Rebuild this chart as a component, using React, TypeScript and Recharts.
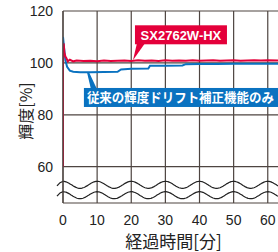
import { LineChart, Line, XAxis, YAxis, CartesianGrid, ReferenceDot, ReferenceArea } from "recharts";

const RED = "#e4003a";
const BLUE = "#0a72c0";
const GRID = "#4e4541";
const NUM_FONT = "'Liberation Sans', Arial, sans-serif";
const JP_FONT = "'Noto Sans CJK JP', sans-serif";

const xTicks = [0, 10, 20, 30, 40, 50, 60];
const yTicks = [60, 80, 100, 120];

const redTime = [0, 0, 0.2, 0.4, 0.7, 1, 1.4, 2, 3, 4, 6, 8, 10, 12, 14, 16, 18, 20, 22, 24, 26, 28, 30, 32, 34, 36, 38, 40, 42, 44, 46, 48, 50, 52, 54, 56, 58, 60, 63];
const redValue = [60, 100, 107.5, 104, 102.5, 101.8, 100.6, 101.2, 100.6, 100.9, 100.7, 100.8, 100.6, 100.9, 100.7, 100.8, 100.9, 100.7, 101, 100.8, 100.9, 100.7, 101, 100.8, 100.9, 100.8, 101, 100.8, 100.9, 101, 100.8, 100.9, 101, 100.8, 100.9, 101, 100.9, 101, 100.9];

const blueTime = [0, 0.3, 0.7, 1.2, 2, 3, 5, 8, 12, 16, 17, 20, 25, 25.5, 30, 35, 36, 40, 45, 50, 55, 60, 63];
const blueValue = [110, 106, 101, 98.5, 97, 96.6, 96.4, 96.4, 96.5, 96.6, 97.5, 97.7, 97.8, 98.9, 98.9, 99.0, 99.5, 99.6, 99.6, 99.7, 99.7, 99.7, 99.7];

const redData = redTime.map((t, i) => ({ t, v: redValue[i] }));
const blueData = blueTime.map((t, i) => ({ t, v: blueValue[i] }));

function wavePath(x0: number, x1: number, y: number, period: number, amp: number) {
  let d = "";
  for (let x = x0; x <= x1; x += 1) {
    const yy = y - amp * Math.cos(((x - x0) / period) * Math.PI * 2);
    d += (d ? "L" : "M") + x.toFixed(1) + "," + yy.toFixed(1);
  }
  return d;
}

const BreakMark = (props: any) => {
  const { x, y, width, height } = props;
  const period = width / 6.3;
  return (
    <g>
      <path d={wavePath(x, x + width, y, period, 3.5)} fill="none" stroke="#222" strokeWidth={1.2} />
      <path d={wavePath(x, x + width, y + height, period, 3.5)} fill="none" stroke="#222" strokeWidth={1.2} />
      <path d={"M" + (x - 6) + "," + (y + 1) + "Q" + (x - 3) + "," + (y - 3) + " " + x + "," + (y - 3.5)} fill="none" stroke="#222" strokeWidth={1.2} />
      <path d={"M" + (x - 6) + "," + (y + height + 1) + "Q" + (x - 3) + "," + (y + height - 3) + " " + x + "," + (y + height - 3.5)} fill="none" stroke="#222" strokeWidth={1.2} />
    </g>
  );
};

const RedLabel = (props: any) => {
  const { cx, cy } = props;
  return (
    <g>
      <polygon points={`${cx},${cy} ${cx + 4},${cy - 17} ${cx + 12},${cy - 17}`} fill={RED} />
      <rect x={cx + 2} y={cy - 35} width={92} height={19} fill={RED} />
      <text x={cx + 48} y={cy - 20.5} textAnchor="middle" fill="#fff" fontFamily={NUM_FONT} fontWeight="bold" fontSize={13}>
        SX2762W-HX
      </text>
    </g>
  );
};

const BlueLabel = (props: any) => {
  const { cx, cy } = props;
  return (
    <g>
      <polygon points={`${cx - 1},${cy} ${cx + 1},${cy} ${cx + 9},${cy + 17} ${cx + 3},${cy + 17}`} fill={BLUE} />
      <rect x={cx - 4} y={cy + 16} width={210} height={19} fill={BLUE} />
      <text x={cx - 1} y={cy + 30.5} fill="#fff" fontFamily={JP_FONT} fontWeight="bold" fontSize={13} textLength={187} lengthAdjust="spacingAndGlyphs">
        従来の輝度ドリフト補正機能のみ
      </text>
    </g>
  );
};

const XTitle = () => (
  <text x={173.5} y={248} textAnchor="middle" fill="#222" fontSize={17} fontFamily={JP_FONT}>
    経過時間[分]
  </text>
);

const YTitle = () => (
  <text x={0} y={0} transform="translate(25,111) rotate(-90)" textAnchor="middle" dominantBaseline="central" fill="#222" fontSize={16} fontFamily={JP_FONT}>
    輝度[%]
  </text>
);

export default function App() {
  return (
    <div style={{ position: "fixed", left: 0, top: 0, background: "#fff" }}>
      <LineChart width={278} height={252} margin={{ top: 11, right: 0, bottom: 0, left: 0 }}>
        <CartesianGrid stroke={GRID} strokeWidth={1.2} horizontalValues={yTicks} verticalValues={xTicks} />
        <XAxis
          type="number"
          dataKey="t"
          domain={[0, 63]}
          ticks={xTicks}
          allowDataOverflow
          tickLine={false}
          axisLine={{ stroke: GRID, strokeWidth: 1.2 }}
          height={49}
          tick={{ fill: "#222", fontSize: 14, fontFamily: NUM_FONT }}
          dy={4}
          label={{ content: XTitle }}
        />
        <YAxis
          type="number"
          domain={[46, 120]}
          ticks={yTicks}
          allowDataOverflow
          tickLine={false}
          axisLine={{ stroke: GRID, strokeWidth: 1.2 }}
          width={63}
          tick={{ fill: "#222", fontSize: 14, fontFamily: NUM_FONT }}
          dx={-2}
          label={{ content: YTitle }}
        />
        <ReferenceArea x1={0} x2={63} y1={49} y2={53} ifOverflow="visible" shape={BreakMark} />
        <Line data={blueData} dataKey="v" type="linear" stroke={BLUE} strokeWidth={2} dot={false} isAnimationActive={false} />
        <Line data={redData} dataKey="v" type="linear" stroke={RED} strokeWidth={2} dot={false} isAnimationActive={false} />
        <ReferenceDot x={20.5} y={101} r={0} ifOverflow="visible" shape={RedLabel} />
        <ReferenceDot x={7.3} y={96.5} r={0} ifOverflow="visible" shape={BlueLabel} />
      </LineChart>
    </div>
  );
}
